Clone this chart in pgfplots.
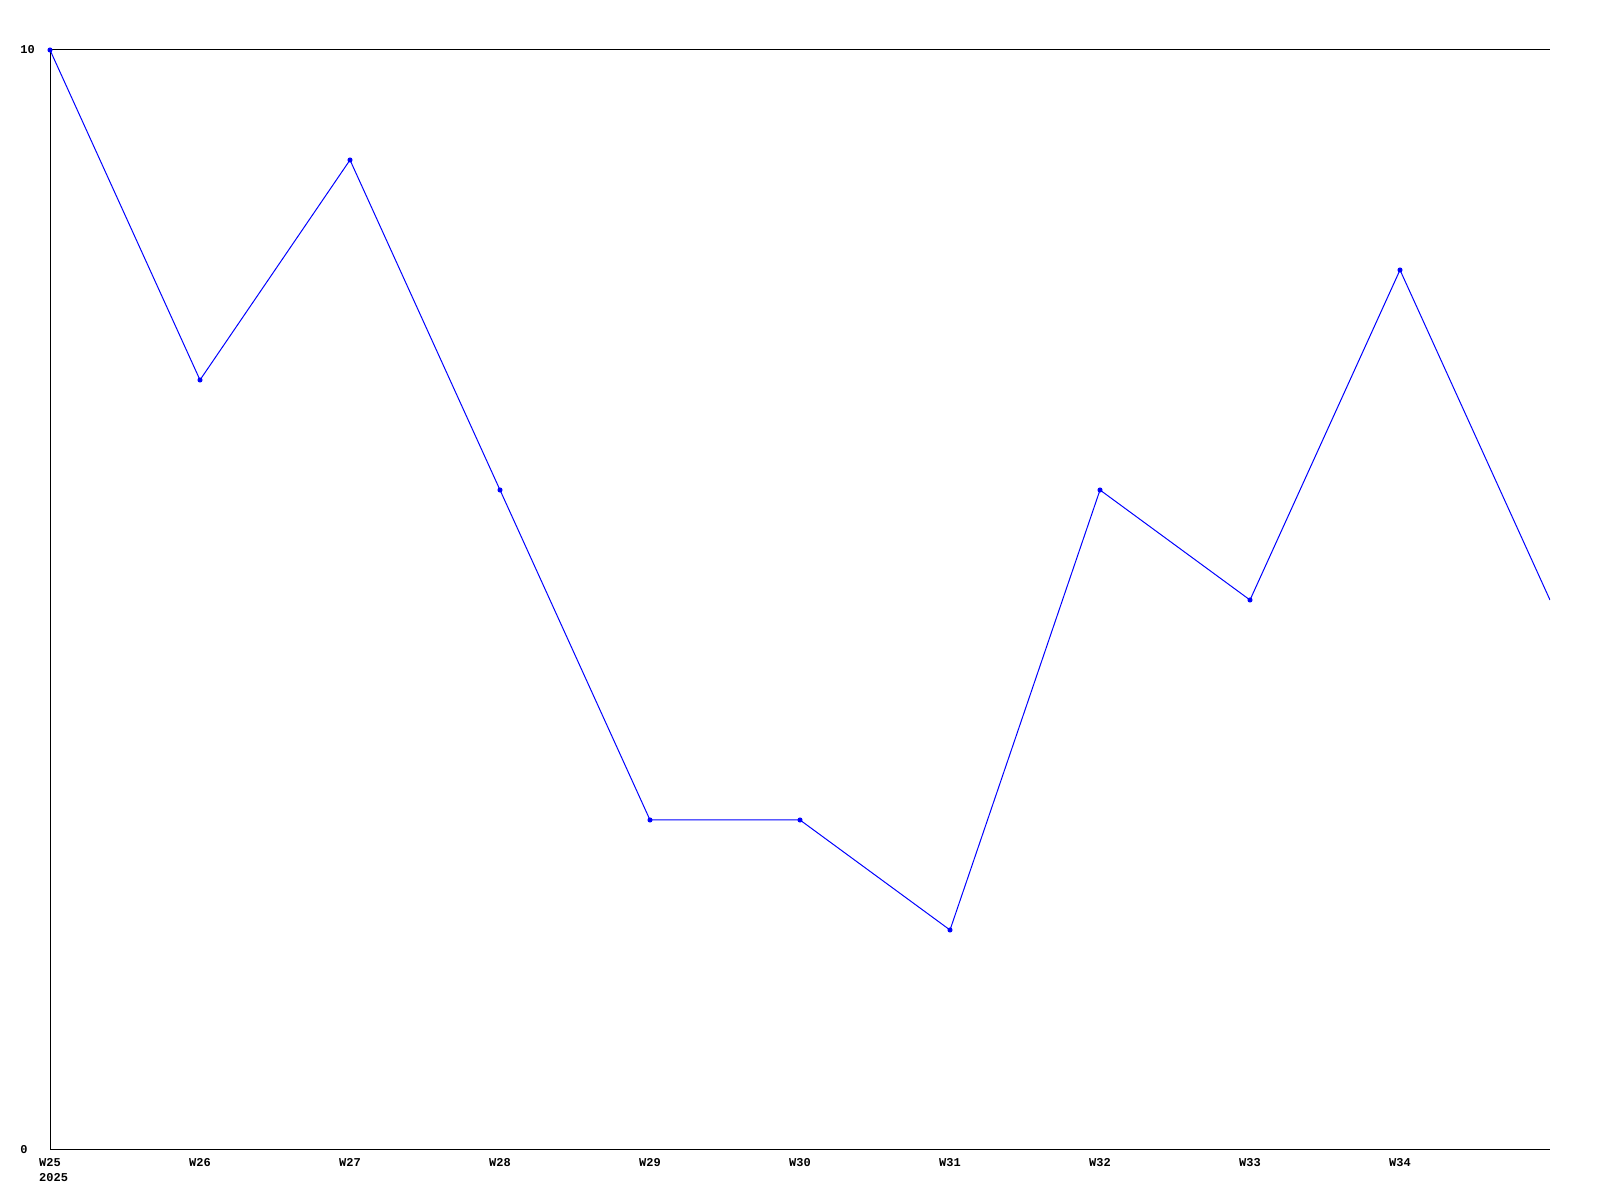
\documentclass[border=0pt]{standalone}
\usepackage{pgfplots}
\pgfplotsset{compat=1.18}
\usepackage{fontspec}
\setmainfont{Liberation Mono}
\begin{document}
\begin{tikzpicture}[x=1pt,y=1pt]
\useasboundingbox (-12.5,-12.5) rectangle (387.5,287.5);
\begin{axis}[
  at={(0,0)}, anchor=south west,
  scale only axis, width=375pt, height=275pt,
  xmin=0, xmax=10, ymin=0, ymax=10,
  axis x line*=bottom, axis y line*=left,
  axis line style={black, line width=0.25pt, -},
  xtick={0,...,9},
  xticklabels={{W25\\\rlap{2025}\phantom{W25}},W26,W27,W28,W29,W30,W31,W32,W33,W34},
  ytick={0,10},
  major tick length=0pt,
  ymajorgrids, grid style={black, line width=0.25pt},
  tick label style={font=\fontsize{3}{3.7}\selectfont\bfseries},
  xticklabel style={align=center, anchor=north, inner sep=0pt, yshift=-2pt},
  yticklabel style={anchor=west, inner sep=0pt, xshift=-7.6pt},
  /pgf/number format/assume math mode=true,
  clip=true,
]
\addplot[blue, line width=0.25pt, mark=*, mark size=0.5pt, mark indices={1,...,10}, mark options={fill=blue, draw=blue}]
coordinates {(0,10) (1,7) (2,9) (3,6) (4,3) (5,3) (6,2) (7,6) (8,5) (9,8) (10,5)};
\end{axis}
\end{tikzpicture}
\end{document}
